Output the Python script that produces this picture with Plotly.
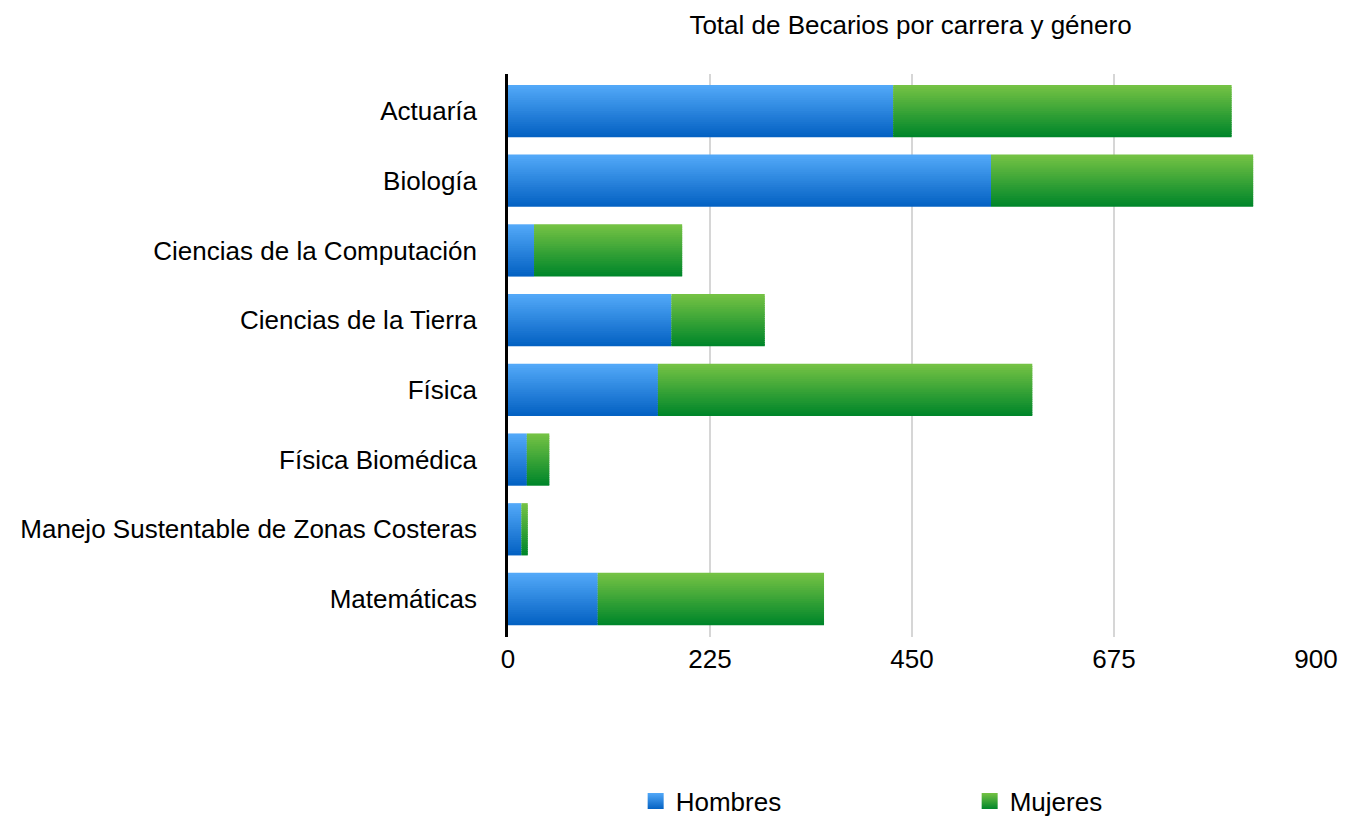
import plotly.graph_objects as go

carreras = [
    "Actuaría",
    "Biología",
    "Ciencias de la Computación",
    "Ciencias de la Tierra",
    "Física",
    "Física Biomédica",
    "Manejo Sustentable de Zonas Costeras",
    "Matemáticas",
]
hombres = [429, 538, 29, 182, 167, 21, 15, 100]
mujeres = [377, 292, 165, 104, 417, 25, 7, 252]
ticks = [0, 225, 450, 675, 900]

FONT = "Liberation Sans, Arial, Helvetica, sans-serif"
BAR_W = 0.75
N_SLICES = 24


def mix(c1, c2, t):
    a = [int(c1[i:i + 2], 16) for i in (1, 3, 5)]
    b = [int(c2[i:i + 2], 16) for i in (1, 3, 5)]
    return "rgb(%d,%d,%d)" % tuple(round(a[k] + (b[k] - a[k]) * t) for k in range(3))


def gradient_bars(fig, values, base, top_col, bottom_col, name):
    # fake a vertical gradient with thin overlapping bar slices
    step = BAR_W / N_SLICES
    for i in range(N_SLICES):
        fig.add_trace(go.Bar(
            x=values, y=carreras, base=base, orientation="h",
            width=step * 1.6 if i < N_SLICES - 1 else step,
            offset=-BAR_W / 2 + i * step,
            marker=dict(color=mix(top_col, bottom_col, i / (N_SLICES - 1)), line=dict(width=0)),
            showlegend=False, hoverinfo="skip", name=name,
        ))
    # legend swatch
    fig.add_trace(go.Scatter(
        x=[None], y=[None], mode="markers", name=name,
        marker=dict(symbol="square", size=22, color=top_col,
                    gradient=dict(type="vertical", color=bottom_col)),
    ))


fig = go.Figure()
gradient_bars(fig, hombres, [0] * len(hombres), "#52a8f8", "#0462c3", "Hombres")
gradient_bars(fig, mujeres, hombres, "#74c244", "#00862a", "Mujeres")

# page body has an 8px margin, so the figure is 8px smaller on each axis
fig.update_layout(
    width=1345, height=811,
    barmode="overlay",
    plot_bgcolor="white", paper_bgcolor="white",
    margin=dict(l=500, r=37, t=66, b=182),
    font=dict(family=FONT, size=26, color="#000000"),
    title=dict(text="Total de Becarios por carrera y género", x=0.671, xanchor="center",
               y=0.979, yanchor="middle", font=dict(size=26)),
    legend=dict(orientation="h", x=0.158, xanchor="left", yref="container",
                y=0.022, yanchor="middle", entrywidth=289, font=dict(size=26)),
    xaxis=dict(range=[0, 900], tickvals=ticks, showgrid=True, gridcolor="#d6d6d6",
               gridwidth=1.5, zeroline=False, showline=False, ticks="",
               tickfont=dict(size=26), ticklabelstandoff=4, automargin=False),
    yaxis=dict(range=[7.545, -0.531], showline=True, linecolor="#000000", linewidth=2.5,
               ticks="", showgrid=False, tickfont=dict(size=26), ticklabelstandoff=23,
               automargin=False),
)

fig.write_html("out.html")
